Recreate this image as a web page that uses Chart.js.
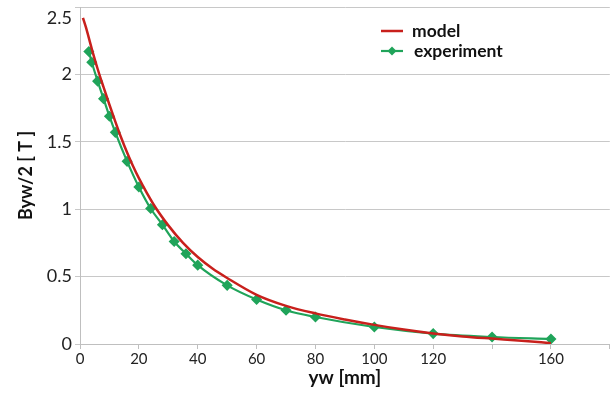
<!DOCTYPE html>
<html>
<head>
<meta charset="utf-8">
<script src="https://cdn.jsdelivr.net/npm/chart.js@4"></script>
<style>
  html, body { margin: 0; padding: 0; background: #fff; }
  #wrap { width: 616px; height: 396px; }
</style>
</head>
<body>
<div id="wrap"><canvas id="fieldChart" width="616" height="396"></canvas></div>
<script>
// model curve (yw in mm, Byw/2 in T)
const modelX = [1, 2, 4, 6, 8, 10, 12, 14, 16, 18, 20, 25, 30, 35, 40, 45, 50, 60, 70, 80, 90, 100, 110, 120, 130, 140, 150, 160];
const modelY = [2.42, 2.35, 2.19, 2.04, 1.905, 1.775, 1.65, 1.53, 1.42, 1.32, 1.23, 1.035, 0.88, 0.75, 0.645, 0.56, 0.49, 0.365, 0.283, 0.227, 0.182, 0.142, 0.107, 0.078, 0.056, 0.04, 0.025, 0.006];

// measured points
const expX = [3, 4, 6, 8, 10, 12, 16, 20, 24, 28, 32, 36, 40, 50, 60, 70, 80, 100, 120, 140, 160];
const expY = [2.17, 2.09, 1.95, 1.82, 1.69, 1.57, 1.355, 1.165, 1.005, 0.885, 0.76, 0.67, 0.585, 0.435, 0.33, 0.25, 0.2, 0.126, 0.077, 0.052, 0.037];

const hiddenXLabels = [140, 180];

const RED = '#c8201c';
const GREEN = '#20a45a';
const FONT = 'Lato, "Open Sans", sans-serif';

// legend drawn inside the plot, top right
const innerLegend = {
    id: 'innerLegend',
    afterDraw(chart) {
        const ctx = chart.ctx;
        const x0 = 381, x1 = 403;
        const rows = [31, 51];
        ctx.save();
        ctx.font = 'bold 17.5px ' + FONT;
        ctx.textBaseline = 'middle';
        chart.data.datasets.forEach((ds, i) => {
            const y = rows[i];
            ctx.strokeStyle = ds.borderColor;
            ctx.lineWidth = ds.borderWidth;
            ctx.beginPath();
            ctx.moveTo(x0, y);
            ctx.lineTo(x1, y);
            ctx.stroke();
            if (ds.pointRadius > 0) {
                const r = 4.5, cx = (x0 + x1) / 2;
                ctx.fillStyle = ds.pointBackgroundColor;
                ctx.beginPath();
                ctx.moveTo(cx, y - r);
                ctx.lineTo(cx + r, y);
                ctx.lineTo(cx, y + r);
                ctx.lineTo(cx - r, y);
                ctx.closePath();
                ctx.fill();
            }
            ctx.fillStyle = '#111';
            ctx.fillText(ds.label, 412 + i * 2, y);
        });
        ctx.restore();
    }
};

new Chart(document.getElementById('fieldChart'), {
    type: 'line',
    data: {
        datasets: [
            {
                label: 'model',
                data: modelX.map((x, i) => ({x: x, y: modelY[i]})),
                borderColor: RED,
                borderWidth: 2.5,
                pointRadius: 0,
                cubicInterpolationMode: 'monotone',
                fill: false
            },
            {
                label: 'experiment',
                data: expX.map((x, i) => ({x: x, y: expY[i]})),
                borderColor: GREEN,
                backgroundColor: GREEN,
                pointBackgroundColor: GREEN,
                pointBorderColor: GREEN,
                borderWidth: 2.2,
                pointStyle: 'rectRot',
                pointRadius: 4,
                cubicInterpolationMode: 'monotone',
                fill: false
            }
        ]
    },
    options: {
        responsive: false,
        animation: false,
        layout: { padding: { top: 7, right: 6, left: 0, bottom: 0 } },
        plugins: { legend: { display: false }, tooltip: { enabled: false } },
        scales: {
            x: {
                type: 'linear',
                min: 0,
                max: 180,
                border: { color: '#bfbfbf', width: 1 },
                grid: { drawOnChartArea: false, color: '#bfbfbf', tickLength: 5 },
                ticks: {
                    stepSize: 20,
                    color: '#222',
                    font: { family: FONT, size: 15 },
                    padding: 1,
                    callback: v => hiddenXLabels.includes(v) ? '' : v
                },
                title: {
                    display: true,
                    text: 'yw [mm]',
                    color: '#111',
                    font: { family: FONT, size: 19, weight: 'bold' },
                    padding: { top: 4, bottom: 7 }
                },
                afterFit: s => { s.height = 52; s.paddingRight = 0; }
            },
            y: {
                min: 0,
                max: 2.5,
                border: { color: '#bfbfbf', width: 1 },
                grid: { color: '#c8c8c8', tickLength: 5 },
                ticks: {
                    stepSize: 0.5,
                    color: '#222',
                    font: { family: FONT, size: 18 },
                    padding: 3,
                    // top label sits a little below its gridline, as in the original
                    callback: v => v === 2.5 ? ['', '2.5'] : String(v)
                },
                title: {
                    display: true,
                    text: 'Byw/2 [ T ]',
                    color: '#111',
                    font: { family: FONT, size: 18, weight: 'bold' },
                    padding: { top: 15, bottom: 4 }
                },
                afterFit: s => { s.width = 80; s.paddingTop = 0; s.paddingBottom = 0; }
            }
        }
    },
    plugins: [innerLegend]
});
</script>
</body>
</html>
